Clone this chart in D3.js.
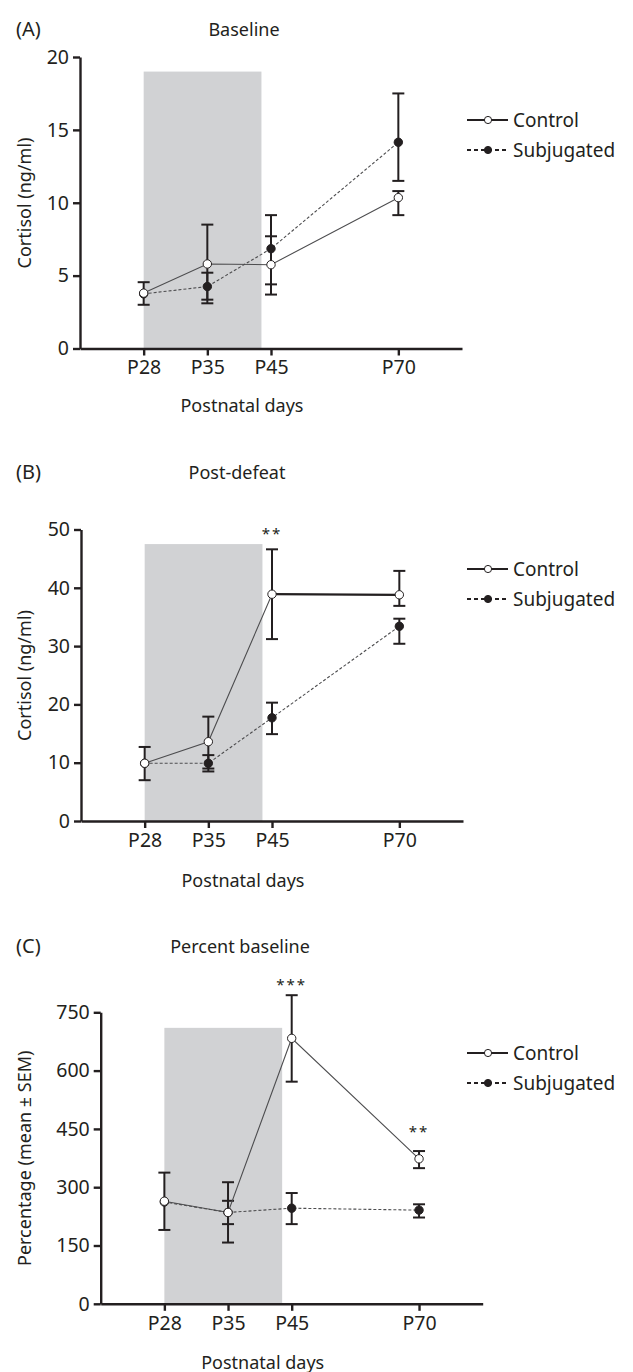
<!DOCTYPE html>
<html>
<head>
<meta charset="utf-8">
<script src="https://cdn.jsdelivr.net/npm/d3@7"></script>
<style>
  body { margin: 0; background: #fff; }
  svg text { font-family: "Noto Sans", "Open Sans", sans-serif; fill: #231f20; }
</style>
</head>
<body>
<div id="chart"></div>
<script>
// Time points (the P70 slot sits after an empty gap on the axis)
const days = ["P28", "P35", "P45", "P70"];
const xSlots = ["P28", "P35", "P45", "gap", "P70"];

// (A) Baseline cortisol, ng/ml
const baseControl = [3.8, 5.8, 5.75, 10.35];
const baseControlLo = [3.0, 3.1, 3.7, 9.15];
const baseControlHi = [4.55, 8.5, 7.7, 10.8];
const baseSubj = [3.75, 4.25, 6.85, 14.15];
const baseSubjLo = [3.75, 3.35, 4.4, 11.5];
const baseSubjHi = [3.75, 5.2, 9.15, 17.5];

// (B) Post-defeat cortisol, ng/ml
const postControl = [9.9, 13.6, 38.9, 38.8];
const postControlLo = [7.0, 9.0, 31.2, 36.9];
const postControlHi = [12.7, 17.9, 46.6, 42.9];
const postSubj = [9.9, 9.9, 17.7, 33.4];
const postSubjLo = [9.9, 8.5, 14.9, 30.4];
const postSubjHi = [9.9, 11.3, 20.3, 34.7];

// (C) Percent of baseline
const pctControl = [264, 235, 683, 373];
const pctControlLo = [190, 157.6, 571.5, 349];
const pctControlHi = [337.5, 312.8, 794, 393];
const pctSubj = [262, 235, 246, 241];
const pctSubjLo = [262, 205, 205, 222];
const pctSubjHi = [262, 265, 285, 256];

// significance marks
const postStars = [{ day: "P45", text: "**" }];
const pctStars = [{ day: "P45", text: "***" }, { day: "P70", text: "**" }];

const svg = d3.select("#chart").append("svg")
  .attr("width", 633)
  .attr("height", 1372);

function series(mean, lo, hi) {
  return days.map((d, i) => ({ day: d, mean: mean[i], lo: lo[i], hi: hi[i] }));
}

class LinePanel {
  constructor(_config) {
    this.config = _config;
    this.initVis();
  }

  initVis() {
    const vis = this;
    const c = vis.config;

    vis.g = svg.append("g");

    vis.x = d3.scalePoint().domain(xSlots).range([c.left, c.left + 382]).padding(1);
    vis.y = d3.scaleLinear().domain([0, c.yMax]).range([c.top + 291.5, c.top]);

    // shaded window P28 - just before P45
    vis.g.append("rect")
      .attr("x", vis.x("P28"))
      .attr("width", (vis.x("P35") - vis.x("P28")) * c.shadeSpan)
      .attr("y", vis.y(c.shadeTop))
      .attr("height", vis.y(0) - vis.y(c.shadeTop))
      .attr("fill", "#d1d2d4");

    // axes
    const yAxis = vis.g.append("g")
      .attr("transform", `translate(${c.left},0)`)
      .call(d3.axisLeft(vis.y).tickValues(c.yTicks).tickSize(7).tickSizeOuter(0).tickPadding(4));
    const xAxis = vis.g.append("g")
      .attr("transform", `translate(0,${vis.y(0)})`)
      .call(d3.axisBottom(vis.x).tickValues(days).tickSize(7).tickSizeOuter(0).tickPadding(5));
    [yAxis, xAxis].forEach(a => {
      a.selectAll("path, line").attr("stroke", "#231f20").attr("stroke-width", 2.4);
      a.selectAll("text").style("font-size", "19.5px").attr("fill", "#231f20");
    });

    // labels
    vis.g.append("text").attr("x", 16).attr("y", c.titleY + 7)
      .style("font-size", "20px").text(c.tag);
    vis.g.append("text").attr("x", c.titleX).attr("y", c.titleY + 6.5)
      .attr("text-anchor", "middle").style("font-size", "18px").text(c.title);
    vis.g.append("text")
      .attr("transform", `translate(31,${c.top + 146}) rotate(-90)`)
      .attr("text-anchor", "middle").style("font-size", "18px").text(c.yLabel);
    vis.g.append("text").attr("x", c.left + 162).attr("y", c.xLabelY + 6.5)
      .attr("text-anchor", "middle").style("font-size", "18px").text("Postnatal days");

    this.updateVis();
  }

  updateVis() {
    const vis = this;
    const c = vis.config;
    const groups = [
      { key: "subj", data: c.subj, dash: "3,2", fill: "#231f20" },
      { key: "ctrl", data: c.control, dash: null, fill: "#fff" }
    ];

    const line = d3.line().x(d => vis.x(d.day)).y(d => vis.y(d.mean));

    groups.forEach(s => {
      // error bars (skipped where hidden behind the marker)
      const eb = vis.g.selectAll(`g.err-${s.key}`)
        .data(s.data.filter(d => d.hi > d.lo))
        .join("g")
        .attr("class", `err-${s.key}`)
        .attr("stroke", "#231f20")
        .attr("stroke-width", 2);
      eb.append("line")
        .attr("x1", d => vis.x(d.day)).attr("x2", d => vis.x(d.day))
        .attr("y1", d => vis.y(d.lo)).attr("y2", d => vis.y(d.hi));
      eb.append("line")
        .attr("x1", d => vis.x(d.day) - 6).attr("x2", d => vis.x(d.day) + 6)
        .attr("y1", d => vis.y(d.hi)).attr("y2", d => vis.y(d.hi));
      eb.append("line")
        .attr("x1", d => vis.x(d.day) - 6).attr("x2", d => vis.x(d.day) + 6)
        .attr("y1", d => vis.y(d.lo)).attr("y2", d => vis.y(d.lo));
    });

    groups.forEach(s => {
      vis.g.append("path")
        .datum(s.data)
        .attr("d", line)
        .attr("fill", "none")
        .attr("stroke", "#4d4d4f")
        .attr("stroke-width", 1.1)
        .attr("stroke-dasharray", s.dash);
    });

    // thick segment (P45 -> P70 control, panel B)
    if (c.thickCtrlFrom != null) {
      const seg = c.control.slice(c.thickCtrlFrom, c.thickCtrlFrom + 2);
      vis.g.append("path").datum(seg).attr("d", line)
        .attr("fill", "none").attr("stroke", "#231f20").attr("stroke-width", 2.2);
    }

    groups.forEach(s => {
      vis.g.selectAll(`circle.pt-${s.key}`)
        .data(s.data)
        .join("circle")
        .attr("class", `pt-${s.key}`)
        .attr("cx", d => vis.x(d.day))
        .attr("cy", d => vis.y(d.mean))
        .attr("r", 4.2)
        .attr("fill", s.fill)
        .attr("stroke", "#231f20")
        .attr("stroke-width", 1);
    });

    // stars
    vis.g.selectAll("text.star")
      .data(c.stars)
      .join("text")
      .attr("class", "star")
      .attr("x", d => vis.x(d.day))
      .attr("y", d => c.starY[d.day] + 7)
      .attr("text-anchor", "middle")
      .style("font-size", "15px")
      .style("letter-spacing", "2px")
      .text(d => d.text);

    // legend
    const lg = vis.g.append("g").attr("transform", `translate(467,${c.legendY})`);
    const items = [
      { label: "Control", dash: null, fill: "#fff" },
      { label: "Subjugated", dash: "4,3", fill: "#231f20" }
    ];
    items.forEach((it, i) => {
      const row = lg.append("g").attr("transform", `translate(0,${i * 30})`);
      row.append("line").attr("x1", 0).attr("x2", 41)
        .attr("stroke", "#231f20").attr("stroke-width", 1.8)
        .attr("stroke-dasharray", it.dash);
      row.append("circle").attr("cx", 21).attr("r", 3.6)
        .attr("fill", it.fill).attr("stroke", "#231f20").attr("stroke-width", 1);
      row.append("text").attr("x", 46).attr("y", 6.5)
        .style("font-size", "19px").text(it.label);
    });
  }
}

new LinePanel({
  tag: "(A)", title: "Baseline", titleX: 244, titleY: 29,
  left: 80, top: 57, yMax: 20, yTicks: [0, 5, 10, 15, 20],
  shadeTop: 19, shadeSpan: 1.85,
  yLabel: "Cortisol (ng/ml)", xLabelY: 405, legendY: 120,
  control: series(baseControl, baseControlLo, baseControlHi),
  subj: series(baseSubj, baseSubjLo, baseSubjHi),
  stars: [], starY: {}
});

new LinePanel({
  tag: "(B)", title: "Post-defeat", titleX: 237, titleY: 472,
  left: 81, top: 529.5, yMax: 50, yTicks: [0, 10, 20, 30, 40, 50],
  shadeTop: 47.5, shadeSpan: 1.85,
  yLabel: "Cortisol (ng/ml)", xLabelY: 880, legendY: 569,
  control: series(postControl, postControlLo, postControlHi),
  subj: series(postSubj, postSubjLo, postSubjHi),
  thickCtrlFrom: 2,
  stars: postStars, starY: { P45: 532 }
});

new LinePanel({
  tag: "(C)", title: "Percent baseline", titleX: 240, titleY: 946,
  left: 100.7, top: 1012.3, yMax: 750, yTicks: [0, 150, 300, 450, 600, 750],
  shadeTop: 710, shadeSpan: 1.85,
  yLabel: "Percentage (mean ± SEM)", xLabelY: 1362, legendY: 1053,
  control: series(pctControl, pctControlLo, pctControlHi),
  subj: series(pctSubj, pctSubjLo, pctSubjHi),
  stars: pctStars, starY: { P45: 983, P70: 1130 }
});
</script>
</body>
</html>
